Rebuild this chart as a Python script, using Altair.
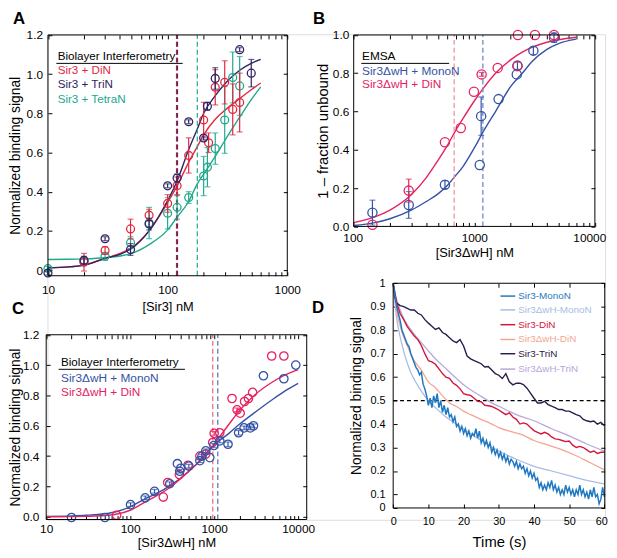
import altair as alt
import pandas as pd

FONT = "Liberation Sans"
TICK = 4
W, H = 565, 492

# ---------------- colours ----------------
A_RED, A_PUR, A_TEAL = "#e3283f", "#2e2362", "#20a88d"
A_KD_COL = ["#6e2457", "#c8283f", "#20a88d"]
BLUE, PINK = "#3452a4", "#e5225f"
B_PINK_KD, B_BLUE_KD = "#f0959a", "#6f87c6"
C_PINK_KD, C_BLUE_KD = "#ee6f80", "#5a78c0"
D_MONO, D_DMONO, D_DIN, D_DDIN, D_TRI, D_DTRI = "#1f78c1", "#a7bde3", "#d2173b", "#f3a691", "#2b1c4c", "#b9a6da"

# ---------------- panel A data ----------------
A_DIN_X = [20, 30, 49, 70, 100, 120, 150, 200, 220, 250, 300, 350, 400]
A_DIN_Y = [0.04, 0.10, 0.21, 0.28, 0.34, 0.43, 0.585, 0.766, 0.65, 0.933, 0.958, 0.82, 0.855]
A_DIN_E = [0.045, 0.02, 0.05, 0.03, 0.045, 0.045, 0.09, 0.09, 0.05, 0.09, 0.11, 0.13, 0.15]
A_TRI_X = [10, 20, 30, 49, 70, 100, 120, 150, 200, 215, 250, 400, 500]
A_TRI_Y = [-0.015, 0.05, 0.16, 0.105, 0.235, 0.43, 0.47, 0.757, 0.674, 0.836, 0.978, 1.125, 1.005]
A_TRI_E = [0.01, 0.02, 0.01, 0.03, 0.03, 0.01, 0.02, 0.01, 0.01, 0.02, 0.055, 0.01, 0.07]
A_TET_X = [10, 20, 30, 49, 70, 100, 120, 150, 200, 215, 250, 300, 350, 400]
A_TET_Y = [0.008, 0.045, 0.07, 0.14, 0.24, 0.29, 0.32, 0.37, 0.48, 0.525, 0.62, 0.766, 0.983, 0.94]
A_TET_E = [0.01, 0.02, 0.02, 0.03, 0.08, 0.08, 0.06, 0.03, 0.1, 0.1, 0.08, 0.17, 0.13, 0.15]
A_FIT_X = [10, 15, 20, 30, 40, 50, 70, 100, 120, 150, 177, 200, 250, 300, 400, 500, 600]
A_FIT_DIN = [0.012, 0.016, 0.025, 0.06, 0.085, 0.115, 0.2, 0.345, 0.43, 0.55, 0.63, 0.69, 0.77, 0.815, 0.875, 0.92, 0.955]
A_FIT_TRI = [0.012, 0.016, 0.025, 0.06, 0.08, 0.11, 0.2, 0.355, 0.455, 0.615, 0.72, 0.8, 0.89, 0.95, 1.02, 1.055, 1.075]
A_FIT_TET = [0.054, 0.055, 0.057, 0.063, 0.072, 0.085, 0.13, 0.205, 0.27, 0.35, 0.44, 0.49, 0.58, 0.66, 0.78, 0.87, 0.935]
A_KD = [120.5, 119, 177]        # TriN, DiN, TetraN

# ---------------- panel B data ----------------
B_MONO_X = [143, 286, 571, 1110, 1140, 1590, 2250, 2280, 3090, 4580]
B_MONO_Y = [0.072, 0.112, 0.218, 0.321, 0.576, 0.665, 0.794, 0.84, 0.918, 0.986]
B_MONO_E = [0.065, 0.07, 0.02, 0.0, 0.1, 0.0, 0.0, 0.02, 0.02, 0.025]
B_DIN_X = [143, 286, 571, 773, 993, 1150, 1563, 2280, 2300, 3185, 4580]
B_DIN_Y = [0.009, 0.187, 0.44, 0.514, 0.703, 0.794, 0.828, 0.837, 1.0, 1.0, 1.0]
B_DIN_E = [0, 0.06, 0, 0, 0, 0.01, 0, 0, 0, 0, 0]
B_FIT_X = [100, 150, 200, 300, 400, 500, 600, 700, 800, 1000, 1200, 1500, 2000, 2500, 3000, 4000, 5000, 7000]
B_FIT_DIN = [0.02, 0.05, 0.085, 0.165, 0.255, 0.345, 0.425, 0.5, 0.56, 0.655, 0.725, 0.8, 0.87, 0.91, 0.935, 0.962, 0.975, 0.988]
B_FIT_MONO = [0.005, 0.02, 0.04, 0.085, 0.13, 0.17, 0.215, 0.265, 0.31, 0.41, 0.5, 0.6, 0.73, 0.8, 0.86, 0.925, 0.955, 0.978]
B_KD = [681, 1178]              # DiN, MonoN

# ---------------- panel C data ----------------
C_MONO_X = [20, 50, 101, 151, 195, 296, 365, 389, 400, 500, 676, 716, 795, 887, 990, 1167, 1462, 1955, 2270, 2690, 2940, 3860, 6760, 9370]
C_MONO_Y = [-0.005, -0.005, 0.08, 0.125, 0.168, 0.218, 0.35, 0.30, 0.32, 0.334, 0.37, 0.40, 0.435, 0.39, 0.47, 0.50, 0.478, 0.554, 0.586, 0.586, 0.60, 0.93, 0.91, 1.0]
C_MONO_E = [0, 0, 0.012, 0.012, 0.012, 0.012, 0, 0.012, 0, 0.012, 0.012, 0.012, 0.012, 0, 0.012, 0.012, 0.015, 0.015, 0.012, 0.012, 0.012, 0, 0, 0]
C_DIN_X = [69, 248, 280, 385, 488, 676, 795, 960, 1000, 1167, 1633, 1875, 2040, 2300, 2560, 2870, 4840, 6760]
C_DIN_Y = [0.01, 0.13, 0.226, 0.278, 0.34, 0.40, 0.414, 0.49, 0.55, 0.554, 0.78, 0.705, 0.683, 0.76, 0.78, 0.82, 1.06, 1.06]
C_DIN_E = [0, 0, 0, 0, 0, 0, 0, 0, 0.012, 0, 0, 0.012, 0, 0, 0, 0, 0, 0]
C_FIT_X = [10, 20, 30, 50, 70, 100, 150, 200, 300, 500, 700, 1000, 1500, 2000, 3000, 5000, 7000, 10000]
C_FIT_MONO = [0.003, 0.006, 0.01, 0.02, 0.035, 0.066, 0.118, 0.15, 0.205, 0.3, 0.38, 0.475, 0.55, 0.61, 0.685, 0.775, 0.83, 0.88]
C_FIT_DIN = [0.0, 0.001, 0.003, 0.008, 0.018, 0.043, 0.097, 0.134, 0.195, 0.3, 0.375, 0.48, 0.61, 0.7, 0.8, 0.89, 0.935, 0.97]
C_KD = [963, 1104]              # DiN, MonoN

# ---------------- panel D data ----------------
D_MONO_T = [i * 0.5 for i in range(121)]
D_MONO_Y = [1.00, 0.95, 0.90, 0.87, 0.84, 0.80, 0.78, 0.76, 0.74, 0.73,
            0.70, 0.68, 0.66, 0.64, 0.63, 0.61, 0.62, 0.57, 0.55, 0.52,
            0.48, 0.51, 0.47, 0.52, 0.49, 0.53, 0.47, 0.50, 0.45, 0.48,
            0.44, 0.47, 0.43, 0.44, 0.41, 0.43, 0.39, 0.40, 0.37, 0.39,
            0.36, 0.38, 0.35, 0.37, 0.34, 0.36, 0.35, 0.38, 0.34, 0.37,
            0.32, 0.34, 0.31, 0.33, 0.30, 0.32, 0.28, 0.30, 0.27, 0.29,
            0.26, 0.28, 0.25, 0.27, 0.24, 0.26, 0.23, 0.25, 0.24, 0.22,
            0.24, 0.21, 0.23, 0.21, 0.22, 0.19, 0.21, 0.18, 0.20, 0.17,
            0.19, 0.16, 0.17, 0.13, 0.15, 0.12, 0.14, 0.12, 0.15, 0.13,
            0.16, 0.12, 0.14, 0.11, 0.13, 0.10, 0.12, 0.10, 0.14, 0.11,
            0.13, 0.10, 0.12, 0.09, 0.12, 0.10, 0.14, 0.10, 0.12, 0.09,
            0.11, 0.08, 0.12, 0.09, 0.13, 0.09, 0.10, 0.06, 0.08, 0.13,
            0.09]
D_DMONO_T = [0, 1, 2, 3, 4, 5, 6, 8, 10, 12, 15, 20, 25, 30, 35, 40, 45, 50, 55, 60]
D_DMONO_Y = [1.0, 0.85, 0.77, 0.71, 0.66, 0.62, 0.59, 0.54, 0.5, 0.47, 0.43, 0.38, 0.33, 0.285, 0.25, 0.22, 0.2, 0.18, 0.16, 0.145]
D_DIN_T = list(range(61))
D_DIN_Y = [1.0, 0.915, 0.87, 0.845, 0.815, 0.795, 0.775, 0.76, 0.735, 0.70,
           0.67, 0.665, 0.655, 0.635, 0.615, 0.60, 0.595, 0.575, 0.565, 0.55,
           0.53, 0.525, 0.522, 0.51, 0.497, 0.495, 0.48, 0.478, 0.475, 0.468,
           0.46, 0.45, 0.44, 0.448, 0.43, 0.42, 0.40, 0.405, 0.40, 0.385,
           0.372, 0.365, 0.358, 0.365, 0.358, 0.345, 0.337, 0.335, 0.33, 0.325,
           0.328, 0.31, 0.30, 0.305, 0.30, 0.29, 0.28, 0.285, 0.275, 0.28,
           0.28]
D_DDIN_T = [0, 1, 2, 3, 4, 5, 6, 8, 10, 12, 14, 16, 18, 20, 22, 25, 28, 30, 33, 36, 40, 44, 48, 52, 56, 60]
D_DDIN_Y = [1.0, 0.88, 0.817, 0.77, 0.735, 0.70, 0.67, 0.63, 0.58, 0.555, 0.52, 0.49, 0.475, 0.455, 0.44, 0.42, 0.40, 0.385, 0.37, 0.358, 0.33, 0.31, 0.29, 0.265, 0.235, 0.205]
D_TRI_T = [0, 0.5] + list(range(1, 61))
D_TRI_Y = [1.0, 0.94,
           0.915, 0.905, 0.90, 0.893, 0.886, 0.886, 0.872, 0.865, 0.845, 0.83,
           0.817, 0.803, 0.81, 0.79, 0.782, 0.768, 0.754, 0.747, 0.76, 0.733,
           0.69, 0.678, 0.67, 0.664, 0.657, 0.643, 0.645, 0.63, 0.615, 0.608,
           0.594, 0.615, 0.58, 0.567, 0.574, 0.574, 0.568, 0.553, 0.532, 0.51,
           0.49, 0.49, 0.497, 0.483, 0.476, 0.47, 0.462, 0.462, 0.455, 0.455,
           0.448, 0.44, 0.435, 0.42, 0.414, 0.41, 0.413, 0.40, 0.407, 0.393]
D_DTRI_T = [0, 1, 2, 3, 4, 5, 6, 8, 10, 12, 14, 16, 18, 20, 22, 25, 28, 30, 35, 40, 45, 50, 55, 60]
D_DTRI_Y = [1.0, 0.93, 0.886, 0.85, 0.824, 0.803, 0.782, 0.747, 0.712, 0.678, 0.65, 0.622, 0.594, 0.567, 0.546, 0.518, 0.49, 0.476, 0.44, 0.414, 0.38, 0.35, 0.315, 0.285]
D_HALF = [0.5]

LEGEND_A = ["Sir3 + DiN", "Sir3 + TriN", "Sir3 + TetraN"]
LEGEND_BC = ["Sir3\u0394wH + MonoN", "Sir3\u0394wH + DiN"]
LEGEND_D = ["Sir3-MonoN", "Sir3\u0394wH-MonoN", "Sir3-DiN", "Sir3\u0394wH-DiN", "Sir3-TriN", "Sir3\u0394wH-TriN"]

LOG_EXPR = "(datum.value==10||datum.value==100||datum.value==1000||datum.value==10000) ? format(datum.value,'d') : ''"
A_YEXPR = "datum.value==0 ? '0' : format(datum.value,'.1f')"
F1_EXPR = "format(datum.value,'.1f')"
D_YEXPR = "datum.value<0.05 ? '0' : (datum.value>0.99 ? '1' : format(datum.value,'.1f'))"

DUMMY = pd.DataFrame({"k": [0]})


def scale(domain, rng, log=False):
    if log:
        return alt.Scale(type="log", domain=domain, range=rng, nice=False)
    return alt.Scale(domain=domain, range=rng, nice=False, zero=False)


def axis(orient, offset, values, expr="", title="", lab=12, tsize=13, lpad=5, tpad=4, labels=True, flush=0):
    kw = dict(orient=orient, offset=offset, values=values, title=title, tickSize=TICK,
              tickColor="black", tickWidth=1, domain=False, grid=False, labels=labels,
              labelFont=FONT, labelFontSize=lab, labelColor="black", labelPadding=lpad,
              labelOverlap=False, titleFont=FONT, titleFontSize=tsize,
              titleFontWeight="normal", titleColor="black", titlePadding=tpad)
    if flush:
        kw["labelFlush"] = True
        kw["labelFlushOffset"] = flush
    else:
        kw["labelFlush"] = False
    if expr:
        kw["labelExpr"] = expr
    return alt.Axis(**kw)


class Panel:
    def __init__(self, xdom, xr, ydom, yr, log, ax_b, ax_l, ax_t, ax_r):
        self.xdom, self.xr, self.ydom, self.yr, self.log = xdom, xr, ydom, yr, log
        self.ax_b, self.ax_l, self.ax_t, self.ax_r = ax_b, ax_l, ax_t, ax_r
        self.layers = []

    def enc(self):
        return dict(x=alt.X("x:Q", scale=scale(self.xdom, self.xr, self.log), axis=self.ax_b),
                    y=alt.Y("y:Q", scale=scale(self.ydom, self.yr), axis=self.ax_l))

    def line(self, xs, ys, color, width=1.4, interp="monotone"):
        df = pd.DataFrame({"x": xs, "y": ys})
        self.layers.append(alt.Chart(df).mark_line(color=color, strokeWidth=width, interpolate=interp).encode(**self.enc()))

    def points(self, xs, ys, errs, color, size):
        df = pd.DataFrame({"x": xs, "y": ys, "e": errs})
        edf = df[df["e"] > 0]
        if len(edf):
            self.layers.append(alt.Chart(edf).mark_errorbar(ticks={"size": 6}, thickness=1.2, color=color)
                               .encode(yError="e:Q", **self.enc()))
        self.layers.append(alt.Chart(df).mark_point(shape="circle", filled=False, size=size, strokeWidth=1.3,
                                                    color=color, opacity=1).encode(**self.enc()))

    def vdash(self, xv, color, width=1.3, dash=(5, 3)):
        df = pd.DataFrame({"x": [xv], "y": [self.ydom[0]], "y2": [self.ydom[1]]})
        self.layers.append(alt.Chart(df).mark_rule(color=color, strokeWidth=width, strokeDash=list(dash))
                           .encode(y2="y2:Q", **self.enc()))

    def hdash(self, yv, color, width=1.2, dash=(4, 3)):
        df = pd.DataFrame({"x": [self.xdom[0]], "x2": [self.xdom[1]], "y": [yv]})
        self.layers.append(alt.Chart(df).mark_rule(color=color, strokeWidth=width, strokeDash=list(dash))
                           .encode(x2="x2:Q", **self.enc()))

    def build(self):
        main = alt.layer(*self.layers)
        df = pd.DataFrame({"x": [self.xdom[0]], "x2": [self.xdom[1]], "y": [self.ydom[0]], "y2": [self.ydom[1]]})
        frame = alt.Chart(df).mark_rect(fillOpacity=0, stroke="black", strokeWidth=1).encode(
            x=alt.X("x:Q", scale=scale(self.xdom, self.xr, self.log), axis=self.ax_t), x2="x2:Q",
            y=alt.Y("y:Q", scale=scale(self.ydom, self.yr), axis=self.ax_r), y2="y2:Q")
        return [main, frame]


LOG_A = [10, 20, 30, 40, 50, 60, 70, 80, 90, 100, 200, 300, 400, 500, 600, 700, 800, 900, 1000]
LOG_B = [100, 200, 300, 400, 500, 600, 700, 800, 900, 1000, 2000, 3000, 4000, 5000, 6000, 7000, 8000, 9000, 10000]
LOG_C = LOG_A + LOG_B[1:]
Y12 = [0, 0.2, 0.4, 0.6, 0.8, 1.0, 1.2]
Y10 = [0, 0.2, 0.4, 0.6, 0.8, 1.0]
D_XT = [0, 10, 20, 30, 40, 50, 60]
D_YT = [0.0425, 0.1, 0.2, 0.3, 0.4, 0.5, 0.6, 0.7, 0.8, 0.9, 1.0]

# ---- panel geometry (group pixel coords) ----
AX, AY = [0.5, 243], [244.7, 0.7]
BX, BY = [310.3, 554.7], [194.7, 0.7]
CX, CY = [-1.3, 262.7], [491.7, 304.5]
DX, DY = [350.3, 564.7], [480, 252.3]

# ---------------- Panel A ----------------
pA = Panel([10, 1000], AX, [-0.029, 1.2], AY, True,
           axis("bottom", -(H - AY[0]) - TICK, LOG_A, LOG_EXPR, "[Sir3] nM", lpad=9, tpad=5),
           axis("left", -AX[0] - TICK, Y12, A_YEXPR, "Normalized binding signal", tsize=14, lpad=5.5, tpad=3.5),
           axis("top", -AY[1] - TICK, LOG_A, labels=False),
           axis("right", -(W - AX[1]) - TICK, Y12, labels=False))
pA.line(A_FIT_X, A_FIT_TET, A_TEAL)
pA.line(A_FIT_X, A_FIT_DIN, A_RED)
pA.line(A_FIT_X, A_FIT_TRI, A_PUR)
pA.vdash(A_KD[1], A_KD_COL[1], width=1.5)
pA.vdash(A_KD[0], A_KD_COL[0], width=1.6)
pA.vdash(A_KD[2], A_KD_COL[2], width=1.2)
pA.points(A_TET_X, A_TET_Y, A_TET_E, A_TEAL, 64)
pA.points(A_DIN_X, A_DIN_Y, A_DIN_E, A_RED, 64)
pA.points(A_TRI_X, A_TRI_Y, A_TRI_E, A_PUR, 64)

# ---------------- Panel B ----------------
pB = Panel([100, 10000], BX, [0, 1.0], BY, True,
           axis("bottom", -(H - BY[0]) - TICK, LOG_B, LOG_EXPR, "[Sir3\u0394wH] nM", lpad=6, tpad=3, flush=11),
           axis("left", -BX[0] - TICK, Y10, F1_EXPR, "1 \u2013 fraction unbound", tsize=15, lpad=5, tpad=2),
           axis("top", -BY[1] - TICK, LOG_B, labels=False),
           axis("right", -(W - BX[1]) - TICK, Y10, labels=False))
pB.line(B_FIT_X, B_FIT_MONO, BLUE)
pB.line(B_FIT_X, B_FIT_DIN, PINK)
pB.vdash(B_KD[0], B_PINK_KD)
pB.vdash(B_KD[1], B_BLUE_KD)
pB.points(B_MONO_X, B_MONO_Y, B_MONO_E, BLUE, 87)
pB.points(B_DIN_X, B_DIN_Y, B_DIN_E, PINK, 87)

# ---------------- Panel C ----------------
pC = Panel([10, 12650], CX, [-0.018, 1.2], CY, True,
           axis("bottom", -(H - CY[0]) - TICK, LOG_C, LOG_EXPR, "[Sir3\u0394wH] nM", lpad=4.5, tpad=1.5),
           axis("left", -CX[0] - TICK, Y12, F1_EXPR, "Normalized binding signal", tsize=14, lpad=7.4, tpad=0),
           axis("top", -CY[1] - TICK, LOG_C, labels=False),
           axis("right", -(W - CX[1]) - TICK, Y12, labels=False))
pC.line(C_FIT_X, C_FIT_MONO, BLUE)
pC.line(C_FIT_X, C_FIT_DIN, PINK)
pC.vdash(C_KD[0], C_PINK_KD)
pC.vdash(C_KD[1], C_BLUE_KD)
pC.points(C_DIN_X, C_DIN_Y, C_DIN_E, PINK, 72)
pC.points(C_MONO_X, C_MONO_Y, C_MONO_E, BLUE, 72)

# ---------------- Panel D ----------------
pD = Panel([0, 60.1], DX, [0.0425, 1.0], DY, False,
           axis("bottom", -(H - DY[0]) - TICK, D_XT, "format(datum.value,'d')", "Time (s)", lab=11, tsize=15, lpad=7.6, tpad=8.5, flush=3),
           axis("left", -DX[0] - TICK, D_YT, D_YEXPR, "Normalized binding signal", lab=11, tsize=14, lpad=8.3, tpad=6.7),
           axis("top", -DY[1] - TICK, D_XT, labels=False),
           axis("right", -(W - DX[1]) - TICK, D_YT, labels=False))
pD.hdash(D_HALF[0], "black")
pD.line(D_DMONO_T, D_DMONO_Y, D_DMONO, 1.3)
pD.line(D_DDIN_T, D_DDIN_Y, D_DDIN, 1.3)
pD.line(D_DTRI_T, D_DTRI_Y, D_DTRI, 1.3)
pD.line(D_TRI_T, D_TRI_Y, D_TRI, 1.4, "linear")
pD.line(D_DIN_T, D_DIN_Y, D_DIN, 1.4, "linear")
pD.line(D_MONO_T, D_MONO_Y, D_MONO, 1.5, "linear")


# ---------------- annotations ----------------
def txt(s, x, y, color="black", size=12, weight="normal", baseline="alphabetic"):
    return alt.Chart(DUMMY).mark_text(text=s, font=FONT, fontSize=size, fontWeight=weight, color=color,
                                      align="left", baseline=baseline).encode(x=alt.value(x), y=alt.value(y))


def hline(x1, x2, y, color="black", width=1.0):
    return alt.Chart(DUMMY).mark_rule(color=color, strokeWidth=width).encode(
        x=alt.value(x1), x2=alt.value(x2), y=alt.value(y))


ann = [
    txt("A", -35, -10.5, size=17, weight="bold"),
    txt("B", 269, -10.5, size=17, weight="bold"),
    txt("C", -36, 283.5, size=17, weight="bold"),
    txt("D", 268, 282.5, size=17, weight="bold"),
    # A legend
    txt("Biolayer Interferometry", 10.3, 26, size=11.8),
    hline(9, 137, 29.5),
    txt(LEGEND_A[0], 10.3, 40, A_RED, 11.8),
    txt(LEGEND_A[1], 10.3, 54.3, A_PUR, 11.8),
    txt(LEGEND_A[2], 10.3, 69.3, A_TEAL, 11.8),
    # B legend
    txt("EMSA", 318.7, 26, size=12),
    hline(318, 407, 29.5),
    txt(LEGEND_BC[0], 318.7, 41, BLUE, 12),
    txt(LEGEND_BC[1], 318.7, 54, PINK, 12),
    # C legend
    txt("Biolayer Interferometry", 13.7, 336.3, size=11.8),
    hline(11.3, 139.3, 339.5),
    txt(LEGEND_BC[0], 13.7, 352.7, BLUE, 12),
    txt(LEGEND_BC[1], 13.7, 366.3, PINK, 12),
]
D_LEG_COL = [D_MONO, D_DMONO, D_DIN, D_DDIN, D_TRI, D_DTRI]
D_LEG_Y = [265.3, 279.3, 294.3, 309.3, 323.7, 339.3]
for lab, col, yy in zip(LEGEND_D, D_LEG_COL, D_LEG_Y):
    ann.append(hline(459, 474, yy, col, 1.5))
    ann.append(txt(lab, 477, yy, col, 10, baseline="middle"))

layers = pA.build() + pB.build() + pC.build() + pD.build() + ann

chart = (alt.layer(*layers)
         .resolve_scale(x="independent", y="independent")
         .resolve_axis(x="independent", y="independent")
         .properties(width=W, height=H, autosize=alt.AutoSizeParams(type="none"),
                     padding={"left": 40, "top": 23, "right": 4, "bottom": 28})
         .configure_view(stroke="transparent")
         .configure(font=FONT))

chart.save("out.html", embed_options={"renderer": "svg", "actions": False})
